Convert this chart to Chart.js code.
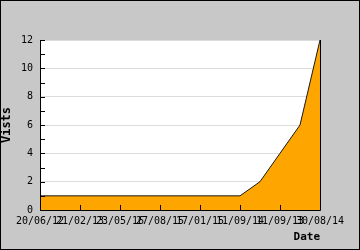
<!DOCTYPE html>
<html><head><meta charset="utf-8">
<script src="https://cdn.jsdelivr.net/npm/chart.js@4"></script>
<style>html,body{margin:0;padding:0;background:#c8c8c8}#c{display:block}</style>
</head><body>
<canvas id="c" width="360" height="250"></canvas>
<script>
const dateLabels = ['20/06/12','21/02/13','23/05/16','27/08/15','17/01/15','11/09/14','11/09/13','30/08/14'];
const visits = [1,1,1,1,1,1,1,1,1,1,1,2,4,6,12];
const yMax = 12;
const yStep = 2;

const MONO = "'DejaVu Sans Mono', monospace";

const frame = {
  id: 'frame',
  beforeDraw(chart) {
    const c = chart.ctx, a = chart.chartArea;
    c.save();
    c.fillStyle = '#c8c8c8';
    c.fillRect(0, 0, chart.width, chart.height);
    c.strokeStyle = '#000';
    c.lineWidth = 1;
    c.strokeRect(0.5, 0.5, chart.width - 1, chart.height - 1);
    c.fillStyle = '#fff';
    c.fillRect(a.left, a.top, a.right - a.left, a.bottom - a.top);
    c.restore();
  },
  afterDatasetsDraw(chart) {
    const c = chart.ctx, a = chart.chartArea, xs = chart.scales.x, ys = chart.scales.y;
    c.save();
    c.strokeStyle = '#000';
    c.lineWidth = 1;
    c.beginPath();
    c.moveTo(a.left + 0.5, a.top);
    c.lineTo(a.left + 0.5, a.bottom + 0.5);
    c.lineTo(a.right + 0.5, a.bottom + 0.5);
    c.lineTo(a.right + 0.5, a.top);
    xs.ticks.forEach(t => {
      const px = Math.round(xs.getPixelForValue(t.value)) + 0.5;
      c.moveTo(px, a.bottom);
      c.lineTo(px, a.bottom - 5);
    });
    for (let v = ys.min; v <= ys.max; v++) {
      const py = Math.round(ys.getPixelForValue(v)) + 0.5;
      c.moveTo(a.left, py);
      c.lineTo(a.left + 5, py);
    }
    c.stroke();
    c.restore();
  }
};

new Chart(document.getElementById('c'), {
  type: 'line',
  data: {
    datasets: [{
      data: visits.map((v, i) => ({x: i, y: v})),
      fill: 'origin',
      backgroundColor: '#ffa500',
      borderColor: '#1a1a1a',
      borderWidth: 1,
      pointRadius: 0,
      tension: 0
    }]
  },
  options: {
    responsive: false,
    animation: false,
    devicePixelRatio: 1,
    layout: {padding: {left: 0, top: 40, right: 40, bottom: 0}},
    plugins: {legend: {display: false}, tooltip: {enabled: false}},
    scales: {
      x: {
        type: 'linear', min: 0, max: visits.length - 1,
        afterFit(s) { s.height = 40; },
        grid: {display: false, drawTicks: false},
        border: {display: false},
        ticks: {
          stepSize: 2, autoSkip: false, maxRotation: 0, padding: 5,
          color: '#000', font: {family: MONO, size: 10},
          callback: v => dateLabels[v / 2]
        },
        title: {
          display: true, text: 'Date', align: 'end', color: '#000',
          font: {family: MONO, size: 11, weight: 'bold'},
          padding: {top: 0, bottom: 6}
        }
      },
      y: {
        min: 0, max: yMax,
        afterFit(s) { s.width = 40; },
        grid: {color: '#dcdcdc', drawTicks: false},
        border: {display: false},
        ticks: {
          stepSize: yStep, padding: 7,
          color: '#000', font: {family: MONO, size: 10}
        },
        title: {
          display: true, text: 'Vists', color: '#000',
          font: {family: MONO, size: 12, weight: 'bold'},
          padding: {top: 0, bottom: 0}
        }
      }
    }
  },
  plugins: [frame]
});
</script>
</body></html>
